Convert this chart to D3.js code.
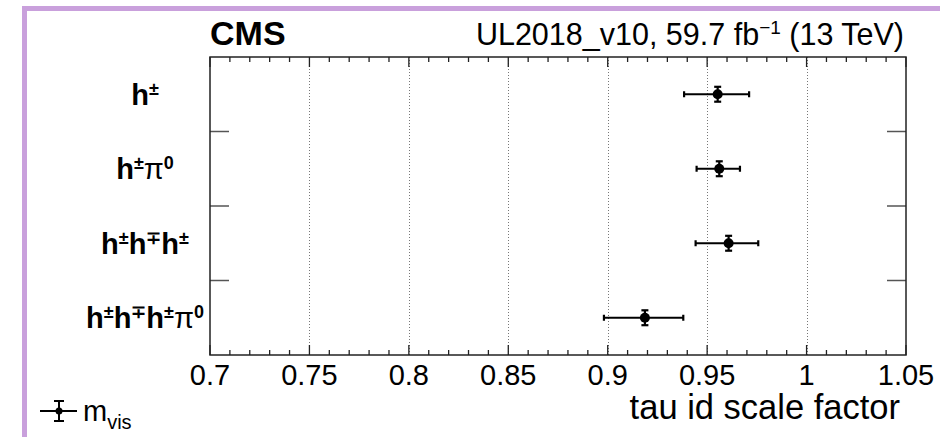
<!DOCTYPE html>
<html>
<head>
<meta charset="utf-8">
<script src="https://cdn.jsdelivr.net/npm/d3@7"></script>
<style>
  html, body { margin: 0; padding: 0; background: #fff; }
  svg { display: block; }
  text { font-family: "Liberation Sans", Arial, Helvetica, sans-serif; fill: #000; }
</style>
</head>
<body>
<svg id="chart" width="940" height="437"></svg>
<script>
// Decay-mode categories, top to bottom; each label is a list of [text, style] runs
const categories = ["h±", "h±π0", "h±h∓h±", "h±h∓h±π0"];
const categoryLabels = [
  [["h", ""], ["±", "sup"]],
  [["h", ""], ["±", "sup"], ["π", "pi"], ["0", "sup"]],
  [["h", ""], ["±", "sup"], ["h", ""], ["∓", "sup"], ["h", ""], ["±", "sup"]],
  [["h", ""], ["±", "sup"], ["h", ""], ["∓", "sup"], ["h", ""], ["±", "sup"], ["π", "pi"], ["0", "sup"]]
];

// Fitted tau ID scale factors with asymmetric uncertainties
const scaleFactors = [0.9553, 0.9561, 0.9608, 0.9187];
const errLow  = [0.0169, 0.0114, 0.0166, 0.0206];
const errHigh = [0.0158, 0.0104, 0.0149, 0.0193];
// Vertical half-size of the point error bar, in category-bin units
const binErr = [0.1, 0.1, 0.1, 0.1];

// Axis ticks
const xMajorTicks = [0.7, 0.75, 0.8, 0.85, 0.9, 0.95, 1.0, 1.05];
const xTickLabels = ["0.7", "0.75", "0.8", "0.85", "0.9", "0.95", "1", "1.05"];
const xGridValues = [0.75, 0.8, 0.85, 0.9, 0.95, 1.0];
const xMinorTicks = d3.range(70, 106).map(v => v / 100);

const svg = d3.select("#chart");

const frame = { left: 210, right: 906, top: 57, bottom: 355 };

const x = d3.scaleLinear().domain([0.7, 1.05]).range([frame.left, frame.right]);
// category bins: bin 0 at the bottom, bin 4 boundary at the top
const y = d3.scaleLinear().domain([0, categories.length]).range([frame.bottom, frame.top]);
const binCenter = i => y(categories.length - i - 0.5);

// Window-style outline on the left and top
svg.append("path")
  .attr("d", `M24.5,437 V8.5 H940`)
  .attr("fill", "none")
  .attr("stroke", "#c9a0dc")
  .attr("stroke-width", 5);

// Dotted vertical grid
svg.append("g").selectAll("line")
  .data(xGridValues)
  .join("line")
  .attr("x1", d => Math.round(x(d)) + 0.5)
  .attr("x2", d => Math.round(x(d)) + 0.5)
  .attr("y1", frame.top)
  .attr("y2", frame.bottom)
  .attr("stroke", "#777")
  .attr("stroke-width", 1)
  .attr("stroke-dasharray", "1,2");

// x ticks on bottom and top: majors 10px, minors 5px
const tickG = svg.append("g").attr("stroke", "#222").attr("stroke-width", 1.3);
const majorSet = new Set(xMajorTicks.map(v => Math.round(v * 100)));
xMinorTicks.forEach(v => {
  const len = majorSet.has(Math.round(v * 100)) ? 10 : 5;
  const px = x(v);
  tickG.append("line").attr("x1", px).attr("x2", px)
    .attr("y1", frame.bottom).attr("y2", frame.bottom - len);
  tickG.append("line").attr("x1", px).attr("x2", px)
    .attr("y1", frame.top).attr("y2", frame.top + len);
});

// y bin boundary ticks on both sides
const yTicks = d3.range(1, categories.length);
svg.append("g").attr("stroke", "#555").attr("stroke-width", 1.5)
  .selectAll("line.l").data(yTicks).join("line")
  .attr("x1", frame.left).attr("x2", frame.left + 19)
  .attr("y1", d => y(d)).attr("y2", d => y(d));
svg.append("g").attr("stroke", "#555").attr("stroke-width", 1.5)
  .selectAll("line.r").data(yTicks).join("line")
  .attr("x1", frame.right - 19).attr("x2", frame.right)
  .attr("y1", d => y(d)).attr("y2", d => y(d));

// Frame
svg.append("rect")
  .attr("x", frame.left).attr("y", frame.top)
  .attr("width", frame.right - frame.left).attr("height", frame.bottom - frame.top)
  .attr("fill", "none").attr("stroke", "#222").attr("stroke-width", 1.5);

// x tick labels
svg.append("g").selectAll("text")
  .data(xMajorTicks)
  .join("text")
  .attr("x", d => x(d))
  .attr("y", 385)
  .attr("text-anchor", "middle")
  .style("font-size", "29px")
  .text((d, i) => xTickLabels[i]);

// x axis title
svg.append("text")
  .attr("x", 900).attr("y", 419)
  .attr("text-anchor", "end")
  .style("font-size", "34.5px")
  .text("tau id scale factor");

// Category labels
categoryLabels.forEach((runs, i) => {
  const t = svg.append("text")
    .attr("x", 145)
    .attr("y", binCenter(i) + 10.5)
    .attr("text-anchor", "middle")
    .style("font-weight", "bold")
    .style("font-size", "29px");
  runs.forEach(([s, kind]) => {
    const ts = t.append("tspan").text(s);
    if (kind === "sup") {
      ts.style("font-size", "18px").attr("baseline-shift", "10px");
    } else if (kind === "pi") {
      ts.style("font-weight", "normal").style("font-size", "29px");
    }
  });
});

// Points with error bars
const pts = svg.append("g").attr("stroke", "#000").attr("stroke-width", 2.2);
scaleFactors.forEach((v, i) => {
  const cy = binCenter(i);
  const xl = x(v - errLow[i]), xr = x(v + errHigh[i]), cx = x(v);
  const half = y(0) - y(binErr[i]);
  pts.append("line").attr("x1", xl).attr("x2", xr).attr("y1", cy).attr("y2", cy);
  pts.append("line").attr("x1", xl).attr("x2", xl).attr("y1", cy - 3).attr("y2", cy + 3);
  pts.append("line").attr("x1", xr).attr("x2", xr).attr("y1", cy - 3).attr("y2", cy + 3);
  pts.append("line").attr("x1", cx).attr("x2", cx).attr("y1", cy - half).attr("y2", cy + half);
  pts.append("line").attr("x1", cx - 3.5).attr("x2", cx + 3.5).attr("y1", cy - half).attr("y2", cy - half);
  pts.append("line").attr("x1", cx - 3.5).attr("x2", cx + 3.5).attr("y1", cy + half).attr("y2", cy + half);
  pts.append("circle").attr("cx", cx).attr("cy", cy).attr("r", 5).attr("fill", "#000").attr("stroke", "none");
});

// Header texts
svg.append("text")
  .attr("x", 210).attr("y", 45)
  .style("font-weight", "bold")
  .style("font-size", "34px")
  .text("CMS");

const lumi = svg.append("text")
  .attr("x", 904).attr("y", 45)
  .attr("text-anchor", "end")
  .style("font-size", "30.5px");
lumi.append("tspan").text("UL2018_v10, 59.7 fb");
lumi.append("tspan").text("−1").style("font-size", "19px").attr("baseline-shift", "11px");
lumi.append("tspan").text(" (13 TeV)");

// Legend
const lg = svg.append("g").attr("stroke", "#000").attr("stroke-width", 2);
const lx = 59, ly = 411;
lg.append("line").attr("x1", 40).attr("x2", 77).attr("y1", ly).attr("y2", ly);
lg.append("line").attr("x1", lx).attr("x2", lx).attr("y1", ly - 10).attr("y2", ly + 10);
lg.append("line").attr("x1", lx - 5).attr("x2", lx + 5).attr("y1", ly - 10).attr("y2", ly - 10);
lg.append("line").attr("x1", lx - 5).attr("x2", lx + 5).attr("y1", ly + 10).attr("y2", ly + 10);
lg.append("circle").attr("cx", lx).attr("cy", ly).attr("r", 3.5).attr("fill", "#000").attr("stroke", "none");

const lt = svg.append("text").attr("x", 83).attr("y", 421).style("font-size", "29px");
lt.append("tspan").text("m");
lt.append("tspan").text("vis").style("font-size", "20px").attr("baseline-shift", "-8px");
</script>
</body>
</html>
